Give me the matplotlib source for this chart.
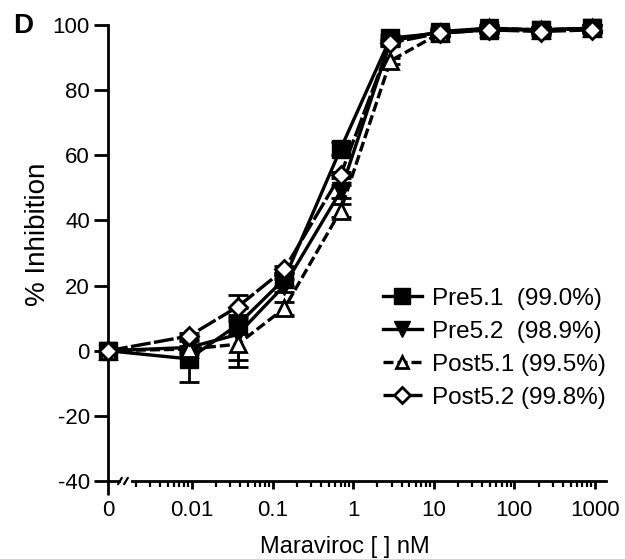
import numpy as np
import matplotlib
matplotlib.use('Agg')
import matplotlib.pyplot as plt
from matplotlib.ticker import FixedLocator, NullFormatter

plt.rcParams['font.family'] = ['Liberation Sans', 'DejaVu Sans']
plt.rcParams['axes.unicode_minus'] = False

# concentrations (nM); 0 is drawn left of the axis break
conc = [0, 0.0092, 0.037, 0.14, 0.70, 2.9, 12, 48, 215, 915]

pre51 = [0, -2.5, 8, 22, 62, 96, 97.5, 98.5, 98.5, 99]
pre52 = [0, 1, 5, 20, 49, 95, 98, 99, 98.5, 99]
post51 = [0, 0.5, 2, 13, 43, 89, 97.5, 99, 98.5, 99]
post52 = [0, 4.5, 13.5, 25, 54, 94.5, 97.5, 98.5, 98, 98.5]

pre51_err = [0, 7, 3, 2, 2, 1, 1, 1, 1, 1]
pre52_err = [0, 2, 8, 2, 2, 1, 1, 1, 1, 1]
post51_err = [0, 1, 7, 2, 2, 1, 1, 1, 1, 1]
post52_err = [0, 1, 3.5, 1, 1, 1, 1, 1, 1, 1]

labels = ['Pre5.1  (99.0%)', 'Pre5.2  (98.9%)', 'Post5.1 (99.5%)', 'Post5.2 (99.8%)']

xtick_vals = [0.01, 0.1, 1, 10, 100, 1000]
xtick_labels = ['0.01', '0.1', '1', '10', '100', '1000']

ZERO_POS = 0.00091
XMAX = 1370

x = np.array([ZERO_POS if c == 0 else c for c in conc])

fig = plt.figure(figsize=(6.25, 5.59), dpi=100)
ax = fig.add_axes([0.1728, 0.1395, 0.7968, 0.8158])

styles = [
    dict(marker='s', ms=13, mfc='black', mec='black', ls='-'),
    dict(marker='v', ms=13, mfc='black', mec='black', ls='-'),
    dict(marker='^', ms=11, mfc='white', mec='black', mew=2, ls=(0, (3, 1.2))),
    dict(marker='D', ms=9, mfc='white', mec='black', mew=2, ls=(0, (6, 1))),
]
series = [pre51, pre52, post51, post52]
errs = [pre51_err, pre52_err, post51_err, post52_err]

handles = []
for i, (y, e, st, lab) in enumerate(zip(series, errs, styles, labels)):
    ax.errorbar(x, y, yerr=e, fmt='none', ecolor='black', capsize=7, capthick=2,
                elinewidth=2, zorder=2 + i, clip_on=False)
    h, = ax.plot(x, y, color='black', lw=2.4, label=lab, zorder=3 + i,
                 clip_on=False, **st)
    handles.append(h)

ax.set_xscale('log')
ax.set_xlim(ZERO_POS, XMAX)
ax.set_ylim(-40, 100)

ax.set_yticks([-40, -20, 0, 20, 40, 60, 80, 100])
ax.set_xticks([ZERO_POS] + xtick_vals)
ax.set_xticklabels(['0'] + xtick_labels)
minor = []
for d in [0.001, 0.01, 0.1, 1, 10, 100]:
    for k in range(2, 10):
        v = d * k
        if 0.0019 < v < XMAX:
            minor.append(v)
ax.xaxis.set_minor_locator(FixedLocator(minor))
ax.xaxis.set_minor_formatter(NullFormatter())

for s in ['top', 'right']:
    ax.spines[s].set_visible(False)
for s in ['left', 'bottom']:
    ax.spines[s].set_linewidth(2)
ax.spines['bottom'].set_bounds(0.0018, XMAX)

# piece of x axis left of the break and the break marks
ax.plot([ZERO_POS, 0.00126], [-40, -40], color='black', lw=2, clip_on=False, zorder=10)
for bx in [0.00128, 0.00152]:
    ax.annotate('', xy=(bx * 1.1, -38.3), xytext=(bx / 1.1, -41.7),
                arrowprops=dict(arrowstyle='-', lw=1.6, color='black'),
                annotation_clip=False)

ax.tick_params(axis='y', which='major', length=10, width=2, labelsize=16, pad=3)
ax.tick_params(axis='x', which='major', length=6, width=2, labelsize=16, pad=8)
ax.tick_params(axis='x', which='minor', length=4, width=1.6)
ax.get_xticklines()[0].set_markersize(10)

ax.set_xlabel('Maraviroc [ ] nM', fontsize=17)
ax.xaxis.set_label_coords(0.476, -0.12)
ax.set_ylabel('% Inhibition', fontsize=20)
ax.yaxis.set_label_coords(-0.115, 0.54)

fig.text(0.021, 0.977, 'D', fontsize=20, fontweight='bold', va='top', ha='left')

ax.legend(handles=handles, loc='upper left', bbox_to_anchor=(0.552, 0.424),
          frameon=False, fontsize=17.5, handlelength=1.6, handletextpad=0.4,
          labelspacing=0.45, borderaxespad=0, borderpad=0, markerscale=0.85)

fig.savefig('out.png', dpi=100)
